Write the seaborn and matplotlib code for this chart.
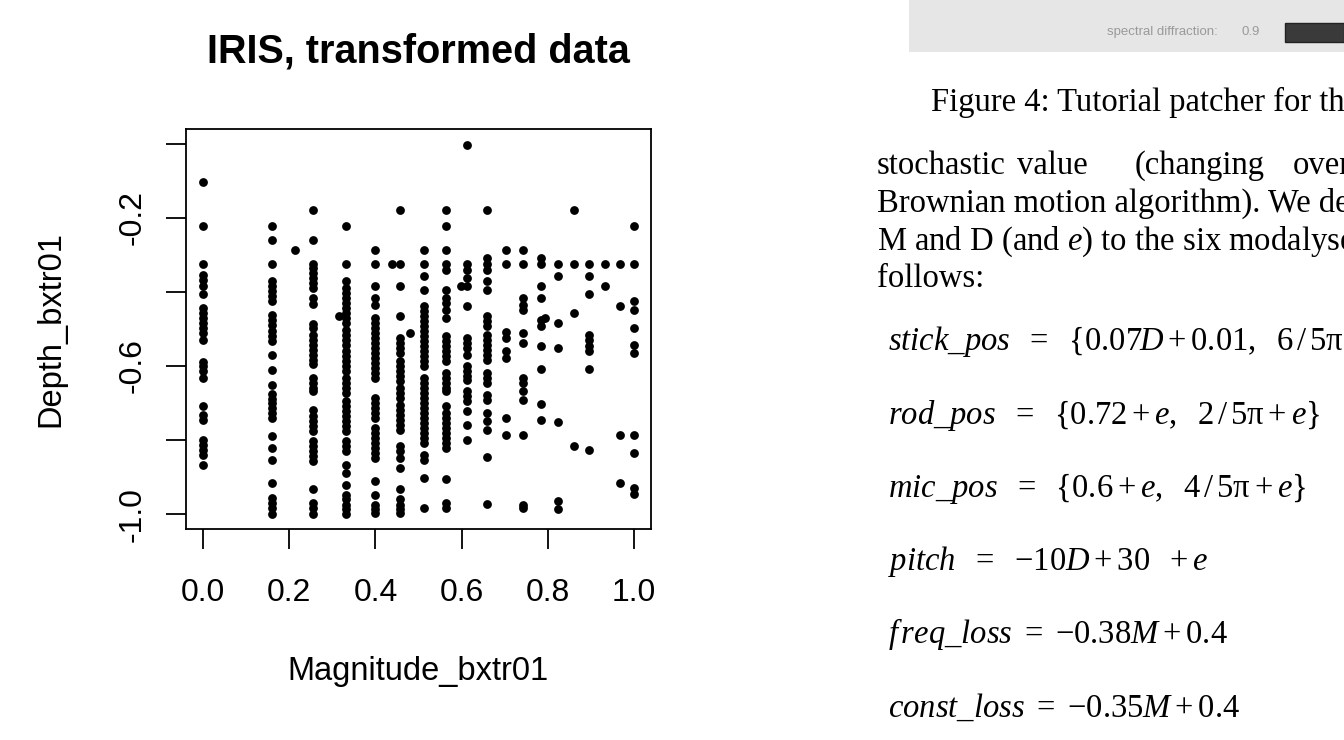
import numpy as np
import pandas as pd
import matplotlib
matplotlib.use("Agg")
import matplotlib.pyplot as plt
import seaborn as sns
from matplotlib.patches import Rectangle

# magnitude levels (x) with the depth values (y) stacked on each level
mag_levels = [0.0, 0.16, 0.255, 0.332, 0.398, 0.457, 0.512, 0.564, 0.612,
              0.658, 0.703, 0.743, 0.785, 0.824, 0.86, 0.897, 0.933, 0.967, 1.0]

depth_m000 = [-0.102, -0.223, -0.325, -0.355, -0.367, -0.385, -0.406, -0.443, -0.457,
              -0.470, -0.484, -0.496, -0.511, -0.531, -0.589, -0.601, -0.614, -0.632,
              -0.709, -0.731, -0.745, -0.801, -0.812, -0.826, -0.839, -0.866]
depth_m016 = [-0.223, -0.259, -0.325, -0.371, -0.385, -0.398, -0.412, -0.424, -0.461,
              -0.475, -0.488, -0.506, -0.520, -0.533, -0.569, -0.610, -0.652, -0.675,
              -0.688, -0.700, -0.713, -0.727, -0.740, -0.790, -0.821, -0.853, -0.916,
              -0.956, -0.969, -0.983, -0.999]
depth_m0255 = [-0.178, -0.259, -0.325, -0.335, -0.349, -0.362, -0.376, -0.388, -0.415,
               -0.433, -0.487, -0.496, -0.515, -0.529, -0.542, -0.556, -0.569, -0.583,
               -0.594, -0.632, -0.646, -0.659, -0.668, -0.720, -0.736, -0.749, -0.763,
               -0.776, -0.803, -0.817, -0.830, -0.844, -0.857, -0.931, -0.969, -0.983, -0.999]
depth_m0332 = [-0.223, -0.325, -0.371, -0.389, -0.403, -0.416, -0.430, -0.443, -0.457,
               -0.470, -0.484, -0.502, -0.515, -0.529, -0.542, -0.560, -0.574, -0.587,
               -0.601, -0.614, -0.632, -0.646, -0.659, -0.673, -0.695, -0.709, -0.722,
               -0.736, -0.749, -0.763, -0.776, -0.803, -0.817, -0.830, -0.866, -0.888,
               -0.920, -0.947, -0.960, -0.974, -0.987, -0.999]
depth_m0398 = [-0.286, -0.325, -0.383, -0.415, -0.434, -0.470, -0.484, -0.497, -0.511,
               -0.524, -0.538, -0.551, -0.565, -0.578, -0.592, -0.605, -0.619, -0.632,
               -0.686, -0.700, -0.713, -0.727, -0.740, -0.767, -0.781, -0.794, -0.808,
               -0.821, -0.835, -0.848, -0.911, -0.947, -0.974, -0.987, -0.996]
depth_m0457 = [-0.178, -0.325, -0.383, -0.464, -0.524, -0.538, -0.551, -0.565, -0.587,
               -0.601, -0.614, -0.628, -0.641, -0.659, -0.673, -0.686, -0.704, -0.718,
               -0.731, -0.745, -0.758, -0.772, -0.817, -0.830, -0.848, -0.875, -0.931,
               -0.960, -0.974, -0.987, -0.996]
depth_m0512 = [-0.286, -0.325, -0.358, -0.394, -0.439, -0.452, -0.466, -0.479, -0.493,
               -0.506, -0.520, -0.533, -0.547, -0.560, -0.574, -0.587, -0.601, -0.632,
               -0.646, -0.659, -0.673, -0.686, -0.700, -0.713, -0.727, -0.740, -0.754,
               -0.767, -0.781, -0.794, -0.808, -0.839, -0.853, -0.902, -0.983]
depth_m0564 = [-0.178, -0.223, -0.286, -0.325, -0.340, -0.394, -0.416, -0.430, -0.448,
               -0.470, -0.520, -0.533, -0.547, -0.560, -0.574, -0.587, -0.619, -0.632,
               -0.646, -0.659, -0.668, -0.709, -0.727, -0.740, -0.754, -0.767, -0.781,
               -0.794, -0.808, -0.821, -0.905, -0.969, -0.983]
depth_m0612 = [-0.003, -0.325, -0.340, -0.362, -0.383, -0.439, -0.524, -0.538, -0.551,
               -0.569, -0.601, -0.614, -0.628, -0.637, -0.668, -0.682, -0.695, -0.722,
               -0.758, -0.801]
depth_m0658 = [-0.178, -0.307, -0.325, -0.340, -0.370, -0.394, -0.466, -0.479, -0.493,
               -0.515, -0.529, -0.542, -0.556, -0.569, -0.583, -0.619, -0.632, -0.646,
               -0.679, -0.693, -0.727, -0.749, -0.772, -0.846, -0.972]
depth_m0703 = [-0.286, -0.325, -0.508, -0.524, -0.560, -0.578, -0.740, -0.785]
depth_m0743 = [-0.286, -0.325, -0.415, -0.434, -0.448, -0.511, -0.538, -0.632, -0.646,
               -0.668, -0.691, -0.785, -0.974, -0.983]
depth_m0785 = [-0.307, -0.325, -0.383, -0.415, -0.475, -0.493, -0.547, -0.607, -0.702, -0.745]
depth_m0824 = [-0.325, -0.358, -0.484, -0.551, -0.751, -0.965, -0.987]
depth_m0860 = [-0.178, -0.325, -0.457, -0.817]
depth_m0897 = [-0.325, -0.358, -0.406, -0.517, -0.531, -0.547, -0.560, -0.607, -0.827]
depth_m0933 = [-0.325, -0.383]
depth_m0967 = [-0.325, -0.439, -0.787, -0.915]
depth_m1000 = [-0.223, -0.325, -0.424, -0.448, -0.497, -0.542, -0.565, -0.785, -0.835,
               -0.929, -0.945]

# single points sitting between the levels
stray_mag = [0.214, 0.315, 0.439, 0.481, 0.598, 0.794]
stray_depth = [-0.286, -0.464, -0.325, -0.511, -0.383, -0.469]

x_ticks = [0.0, 0.2, 0.4, 0.6, 0.8, 1.0]
x_ticklabels = ["0.0", "0.2", "0.4", "0.6", "0.8", "1.0"]
y_ticks = [0.0, -0.2, -0.4, -0.6, -0.8, -1.0]
y_ticklabels = ["", "-0.2", "", "-0.6", "", "-1.0"]

depth_columns = [depth_m000, depth_m016, depth_m0255, depth_m0332, depth_m0398,
                 depth_m0457, depth_m0512, depth_m0564, depth_m0612, depth_m0658,
                 depth_m0703, depth_m0743, depth_m0785, depth_m0824, depth_m0860,
                 depth_m0897, depth_m0933, depth_m0967, depth_m1000]

rows = [(m, d) for m, col in zip(mag_levels, depth_columns) for d in col]
rows += list(zip(stray_mag, stray_depth))
df = pd.DataFrame(rows, columns=["Magnitude_bxtr01", "Depth_bxtr01"])

sns.set_style("ticks")
plt.rcParams["font.family"] = ["Liberation Sans", "DejaVu Sans"]
plt.rcParams["text.color"] = "black"
plt.rcParams["mathtext.fontset"] = "custom"
plt.rcParams["mathtext.rm"] = "Liberation Serif"
plt.rcParams["mathtext.it"] = "Liberation Serif:italic"

W, H = 1344, 740
fig = plt.figure(figsize=(W / 100, H / 100), dpi=100)
fig.patch.set_facecolor("white")

ax = fig.add_axes([186 / W, 1 - 529 / H, 465 / W, 400 / H])
sns.scatterplot(data=df, x="Magnitude_bxtr01", y="Depth_bxtr01", color="black",
                s=40, linewidth=0, ax=ax)
ax.set_xlim(-0.04, 1.04)
ax.set_ylim(-1.04, 0.04)
ax.set_xticks(x_ticks)
ax.set_xticklabels(x_ticklabels)
ax.set_yticks(y_ticks)
ax.set_yticklabels(y_ticklabels)
for lab in ax.get_yticklabels():
    lab.set_rotation(90)
    lab.set_va("center")
for sp in ax.spines.values():
    sp.set_visible(True)
    sp.set_linewidth(1.3)
    sp.set_color("black")
ax.tick_params(axis="both", length=14.5, width=1.3, color="black", labelsize=23,
               labelcolor="black", direction="out")
ax.tick_params(axis="x", pad=21)
ax.tick_params(axis="y", pad=13)
ax.set_xlabel("Magnitude_bxtr01", fontsize=23.5, labelpad=34, color="black")
ax.set_ylabel("Depth_bxtr01", fontsize=23.5, labelpad=37, color="black")
ax.set_title("IRIS, transformed data", fontsize=28.5, fontweight="bold", pad=48,
             color="black")
ax.grid(False)


def put(xp, yp, s, **kw):
    fig.text(xp / W, 1 - yp / H, s, va="baseline", ha="left", **kw)


# page of the paper on the right
fig.add_artist(Rectangle((909 / W, 1 - 52 / H), (W - 909) / W, 52 / H,
                         transform=fig.transFigure, facecolor="#e6e6e6", edgecolor="none"))
fig.add_artist(Rectangle((1285 / W, 1 - 42 / H), (W - 1285) / W, 19 / H,
                         transform=fig.transFigure, facecolor="#3a3a3a", edgecolor="#222222"))
put(1107, 35, "spectral diffraction:", fontsize=9.5, color="#9a9a9a")
put(1242, 35, "0.9", fontsize=9.5, color="#9a9a9a")

serif = dict(family="Liberation Serif", fontsize=23.5, color="black")
put(931, 111, "Figure 4: Tutorial patcher for the mapping", **serif)
for xp, word in [(877, "stochastic"), (1017, "value"), (1135, "(changing"), (1293, "over")]:
    put(xp, 174, word, **serif)
put(877, 212, "Brownian motion algorithm). We define", **serif)
put(877, 250, r"M and D (and $e$) to the six modalyses as", **serif)
put(877, 287, "follows:", **serif)

eqs = [
    r"$stick\_pos\ \ =\ \ \{0.07D+0.01,\ \ 6\,/\,5\mathrm{\pi}+e\}$",
    r"$rod\_pos\ \ =\ \ \{0.72+e,\ \ 2\,/\,5\mathrm{\pi}+e\}$",
    r"$mic\_pos\ \ =\ \ \{0.6+e,\ \ 4\,/\,5\mathrm{\pi}+e\}$",
    r"$pitch\ \ =\ \ {-}10D+30\ \ +e$",
    r"$f\,req\_loss\ =\ {-}0.38M+0.4$",
    r"$const\_loss\ =\ {-}0.35M+0.4$",
]
for yp, eq in zip([350, 424, 497, 570, 643, 717], eqs):
    put(888, yp, eq, fontsize=23.5, color="black")

fig.savefig("out.png", dpi=100)
